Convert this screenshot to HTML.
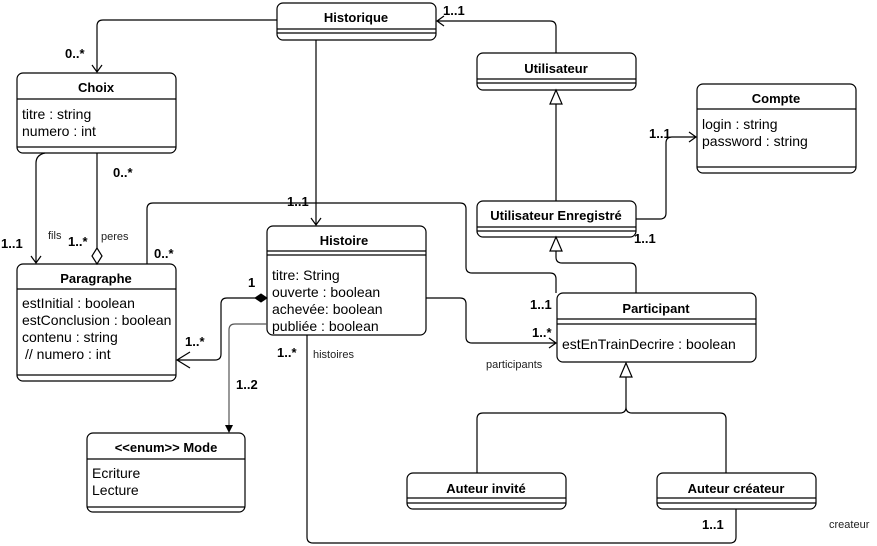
<!DOCTYPE html>
<html><head><meta charset="utf-8"><style>
html,body{margin:0;padding:0;background:#fff;}
svg{display:block;font-family:"Liberation Sans",Arial,sans-serif;}
.b{font-weight:bold;font-size:13px;}
.t{font-size:14px;}
.s{font-size:11px;}
</style></head><body>
<svg width="877" height="546" viewBox="0 0 877 546" xmlns="http://www.w3.org/2000/svg">
<g fill="none" stroke="#000" stroke-width="1.2">
<rect x="277" y="3" width="159" height="37" rx="6"/><path d="M277 29H436M277 33H436"/>
<rect x="17" y="73" width="159" height="80" rx="6"/><path d="M17 99H176M17 147H176"/>
<rect x="477" y="53" width="159" height="37" rx="6"/><path d="M477 79H636M477 83H636"/>
<rect x="697" y="84" width="159" height="89" rx="6"/><path d="M697 109H856M697 167H856"/>
<rect x="477" y="201" width="159" height="36" rx="6"/><path d="M477 227H636M477 231H636"/>
<rect x="267" y="226" width="159" height="109" rx="6"/><path d="M267 251H426M267 255H426"/>
<rect x="17" y="264" width="159" height="117" rx="6"/><path d="M17 289H176M17 375H176"/>
<rect x="557" y="293" width="199" height="69" rx="6"/><path d="M557 319H756M557 324H756"/>
<rect x="87" y="433" width="158" height="79" rx="6"/><path d="M87 459H245M87 507H245"/>
<rect x="407" y="473" width="159" height="36" rx="6"/><path d="M407 498H566M407 503H566"/>
<rect x="657" y="473" width="159" height="36" rx="6"/><path d="M657 498H816M657 503H816"/>
<path d="M277 20H103Q97 20 97 26V72M92 65L97 72L102 65"/>
<path d="M316 40V225M311 218L316 225L321 218"/>
<path d="M556 53V27Q556 21 550 21H437M444 16L437 21L444 26"/>
<path d="M556 201V104"/>
<path d="M556 90L550 104H562Z"/>
<path d="M636 219H660Q666 219 666 213V143Q666 137 672 137H696M689 132L696 137L689 142"/>
<path d="M636 293V269Q636 263 630 263H562Q556 263 556 257V251"/>
<path d="M556 237L550 251H562Z"/>
<path d="M147 264V209Q147 203 153 203H460Q466 203 466 209V267Q466 273 472 273H550Q556 273 556 279V293"/>
<path d="M426 298H460Q466 298 466 304V337Q466 343 472 343H556M549 338L556 343L549 348"/>
<path d="M45 153Q36 155 36 163V263M31 256L36 263L41 256"/>
<path d="M97 153V248"/>
<path d="M97 248L92 256L97 264L102 256Z"/>
<path d="M255 298H227Q221 298 221 304V354Q221 360 215 360H177M190 352L177 360L190 368"/>
<path d="M307 335V537Q307 543 313 543H730Q736 543 736 537V509"/>
<path d="M477 473V419Q477 413 483 413H620Q626 413 626 407V377M726 473V419Q726 413 720 413H632Q626 413 626 407"/>
<path d="M626 363L620 377H632Z"/>
</g>
<path d="M267 298L261 294L255 298L261 302Z" fill="#000" stroke="#000"/>
<path d="M267 324H235Q229 324 229 330V428" fill="none" stroke="#555" stroke-width="1.2"/>
<path d="M225 425L229 433L233 425Z" fill="#000"/>
<g text-anchor="middle" class="b">
<text x="356" y="22">Historique</text>
<text x="96" y="92">Choix</text>
<text x="556" y="73">Utilisateur</text>
<text x="776" y="103">Compte</text>
<text x="556" y="220">Utilisateur Enregistré</text>
<text x="344" y="245">Histoire</text>
<text x="96" y="283">Paragraphe</text>
<text x="656" y="313">Participant</text>
<text x="166" y="452">&lt;&lt;enum&gt;&gt; Mode</text>
<text x="486" y="493">Auteur invité</text>
<text x="736" y="493">Auteur créateur</text>
</g>
<g class="t">
<text x="22" y="119">titre : string</text>
<text x="22" y="136">numero : int</text>
<text x="702" y="129">login : string</text>
<text x="702" y="146">password : string</text>
<text x="272" y="280">titre: String</text>
<text x="272" y="297">ouverte : boolean</text>
<text x="272" y="314">achevée: boolean</text>
<text x="272" y="331">publiée : boolean</text>
<text x="22" y="308">estInitial : boolean</text>
<text x="22" y="325">estConclusion : boolean</text>
<text x="22" y="342">contenu : string</text>
<text x="25" y="359">// numero : int</text>
<text x="562" y="349">estEnTrainDecrire : boolean</text>
<text x="92" y="478">Ecriture</text>
<text x="92" y="495">Lecture</text>
</g>
<g class="b">
<text x="65" y="58">0..*</text>
<text x="443" y="15">1..1</text>
<text x="649" y="138">1..1</text>
<text x="634" y="243">1..1</text>
<text x="287" y="206">1..1</text>
<text x="113" y="177">0..*</text>
<text x="1" y="248">1..1</text>
<text x="68" y="246">1..*</text>
<text x="154" y="258">0..*</text>
<text x="248" y="287">1</text>
<text x="185" y="346">1..*</text>
<text x="236" y="389">1..2</text>
<text x="277" y="357">1..*</text>
<text x="530" y="309">1..1</text>
<text x="532" y="337">1..*</text>
<text x="702" y="529">1..1</text>
</g>
<g class="s" fill="#222">
<text x="48" y="239">fils</text>
<text x="101" y="240">peres</text>
<text x="313" y="358">histoires</text>
<text x="486" y="368">participants</text>
<text x="829" y="528">createur</text>
</g>
</svg>
</body></html>
